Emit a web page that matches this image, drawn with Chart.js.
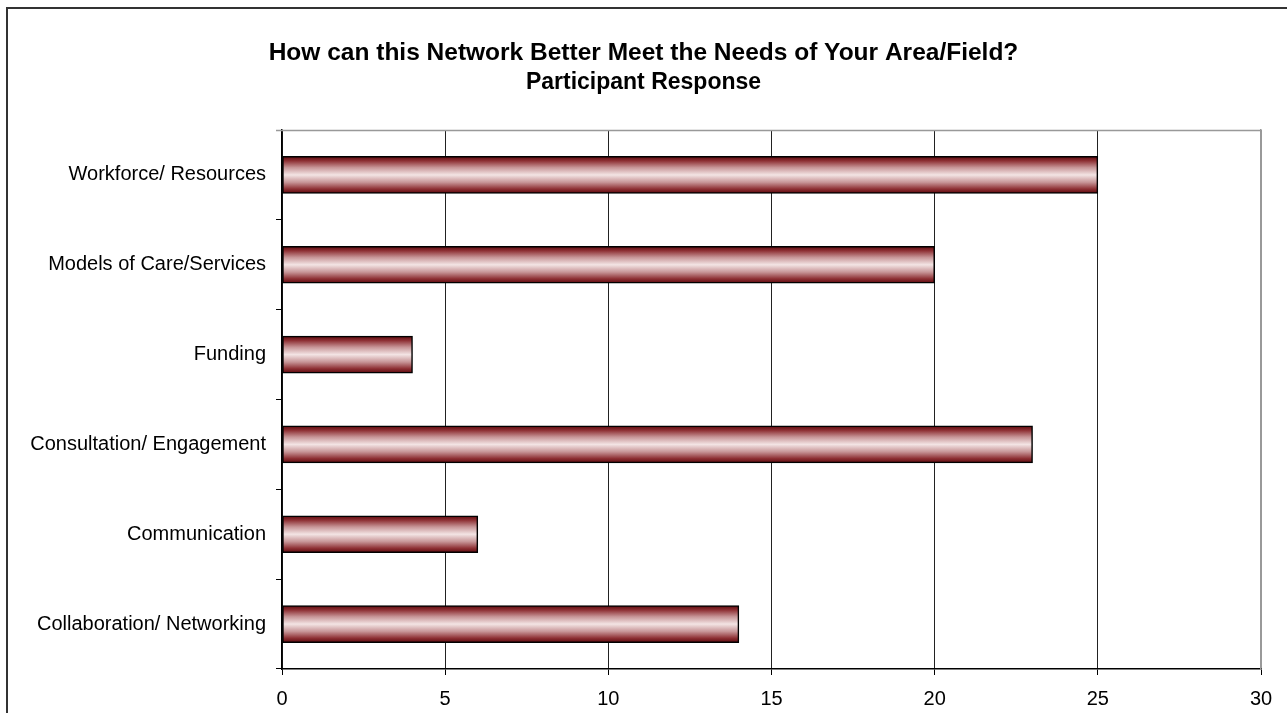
<!DOCTYPE html>
<html>
<head>
<meta charset="utf-8">
<script src="https://cdn.jsdelivr.net/npm/chart.js@4"></script>
<style>
  html, body { margin: 0; padding: 0; background: #fff; overflow: hidden; }
  #wrap { position: relative; width: 1287px; height: 713px; }
  #frame { position: absolute; left: 6px; top: 7px; width: 1400px; height: 800px; border: 2px solid #333; }
  #chart { position: absolute; left: 0; top: 0; }
</style>
</head>
<body>
<div id="wrap">
  <div id="frame"></div>
  <canvas id="chart" width="1287" height="713"></canvas>
</div>
<script>
// Chart data
const categories = [
    'Workforce/ Resources',
    'Models of Care/Services',
    'Funding',
    'Consultation/ Engagement',
    'Communication',
    'Collaboration/ Networking'
];
const responses = [25, 20, 4, 23, 6, 14];
const xTicks = [0, 5, 10, 15, 20, 25, 30];

Chart.defaults.font.family = "'Liberation Sans', Arial, sans-serif";
Chart.defaults.color = '#000';

// gray line on top of the plot area
const plotFrame = {
    id: 'plotFrame',
    afterDraw(chart) {
        const { ctx, chartArea: a } = chart;
        ctx.save();
        ctx.strokeStyle = '#999';
        ctx.lineWidth = 1.5;
        ctx.beginPath();
        ctx.moveTo(a.left - 6, a.top + 0.5);
        ctx.lineTo(a.right + 0.5, a.top + 0.5);
        ctx.stroke();
        ctx.restore();
    }
};

function barFill(c) {
    const chart = c.chart;
    const y = chart.scales && chart.scales.y;
    if (!y || c.dataIndex === undefined) return '#c08080';
    const mid = y.getPixelForValue(c.dataIndex);
    if (!isFinite(mid)) return '#c08080';
    const g = chart.ctx.createLinearGradient(0, mid - 18.5, 0, mid + 18.5);
    g.addColorStop(0, '#5a080c');
    g.addColorStop(0.12, '#8e3034');
    g.addColorStop(0.3, '#c79597');
    g.addColorStop(0.5, '#f3e4e4');
    g.addColorStop(0.7, '#c79597');
    g.addColorStop(0.88, '#8e3034');
    g.addColorStop(1, '#5a080c');
    return g;
}

new Chart(document.getElementById('chart'), {
    type: 'bar',
    data: {
        labels: categories,
        datasets: [{
            data: responses,
            backgroundColor: barFill,
            borderColor: '#000',
            borderWidth: 1.5,
            borderSkipped: false,
            barThickness: 37
        }]
    },
    options: {
        indexAxis: 'y',
        responsive: false,
        animation: false,
        layout: { padding: 0 },
        plugins: {
            legend: { display: false },
            tooltip: { enabled: false },
            title: {
                display: true,
                text: 'How can this Network Better Meet the Needs of Your Area/Field?',
                font: { size: 24.5, weight: 'bold' },
                padding: { top: 38.3, bottom: 0 }
            },
            subtitle: {
                display: true,
                text: 'Participant Response',
                font: { size: 23, weight: 'bold' },
                color: '#000',
                padding: { top: 1.5, bottom: 33.2 }
            }
        },
        scales: {
            x: {
                min: 0,
                max: 30,
                afterBuildTicks: s => { s.ticks = xTicks.map(v => ({ value: v })); },
                afterFit: s => { s.height = 44; },
                ticks: { font: { size: 20 }, padding: 12 },
                border: { color: '#000', width: 1.5 },
                grid: {
                    color: c => (c.tick && c.tick.value === 30 ? '#999' : '#222'),
                    lineWidth: 1,
                    tickLength: 6,
                    tickColor: '#000'
                }
            },
            y: {
                afterFit: s => { s.width = 282; },
                ticks: { font: { size: 20 }, padding: 10 },
                border: { color: '#000', width: 1.5 },
                grid: {
                    offset: true,
                    drawOnChartArea: false,
                    tickLength: 6,
                    color: '#000'
                }
            },
            // empty right axis: gray plot edge and right margin
            yRight: {
                type: 'category',
                labels: categories,
                position: 'right',
                afterFit: s => { s.width = 26; },
                ticks: { display: false },
                grid: { display: false },
                border: { color: '#999', width: 1.5 }
            }
        }
    },
    plugins: [plotFrame]
});
</script>
</body>
</html>
